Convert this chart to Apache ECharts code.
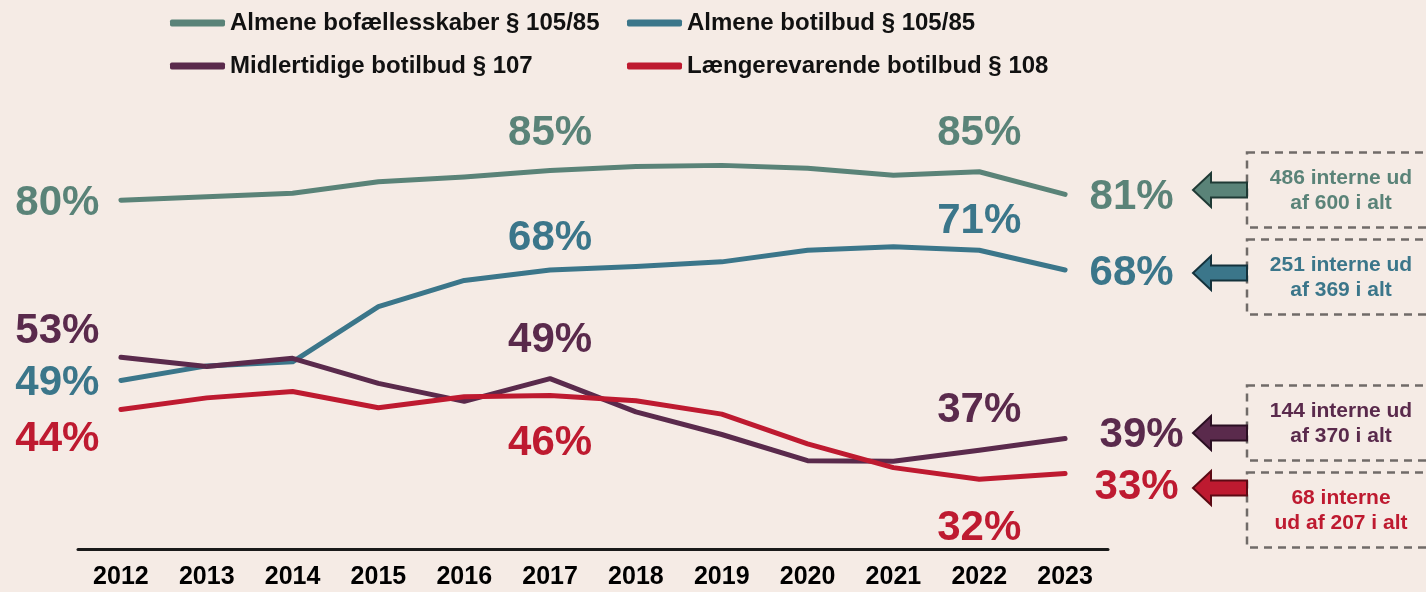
<!DOCTYPE html>
<html lang="da">

<head>
    <meta charset="UTF-8">
    <title>Interne andele</title>
    <script src="https://cdn.jsdelivr.net/npm/echarts@6/dist/echarts.min.js"></script>
    <style>
        html, body {
            margin: 0;
            padding: 0;
            background-color: #f5ebe5;
        }

        #chart {
            width: 1426px;
            height: 592px;
        }
    </style>
</head>

<body>
    <div id="chart"></div>

    <script>
        // Data (percent)
        var years = ['2012', '2013', '2014', '2015', '2016', '2017', '2018', '2019', '2020', '2021', '2022', '2023'];
        var bofaellesskaber = [80, 80.6, 81.2, 83.2, 84.0, 85.1, 85.8, 86.0, 85.5, 84.3, 84.9, 81];
        var botilbud = [49, 51.5, 52.2, 61.7, 66.2, 68, 68.6, 69.4, 71.4, 72, 71.4, 68];
        var midlertidige = [53, 51.4, 52.8, 48.5, 45.4, 49.3, 43.6, 39.7, 35.2, 35.1, 37, 39];
        var laengerevarende = [44, 46, 47.1, 44.3, 46.2, 46.4, 45.5, 43.2, 38.1, 34, 32, 33];

        var seriesNames = [
            'Almene bofællesskaber § 105/85',
            'Almene botilbud § 105/85',
            'Midlertidige botilbud § 107',
            'Længerevarende botilbud § 108'
        ];
        var notes = [
            '486 interne ud\naf 600 i alt',
            '251 interne ud\naf 369 i alt',
            '144 interne ud\naf 370 i alt',
            '68 interne\nud af 207 i alt'
        ];

        var colors = ['#5a8378', '#3b768a', '#5a2a4c', '#be1a30'];
        var darkColors = ['#1f3a35', '#14323c', '#2a0f22', '#5c0a14'];
        var font = '"Liberation Sans", Arial, sans-serif';

        // where the percent labels go: index -> [position, distance, offsetY]
        var labelSpots = [
            { 0: ['left', 21, 3], 5: ['top', 16, 0], 10: ['top', 17, 0], 11: ['right', 24, 3] },
            { 0: ['left', 21, 3], 5: ['top', 10, 0], 10: ['top', 7, 0], 11: ['right', 24, 3] },
            { 0: ['left', 21, -26], 5: ['top', 17, 0], 10: ['top', 18, 0], 11: ['right', 34, -3] },
            { 0: ['left', 21, 30], 5: ['bottom', 26, 0], 10: ['bottom', 28, 0], 11: ['right', 29, 14] }
        ];

        function buildData(values, k) {
            return values.map(function (v, i) {
                var spot = labelSpots[k][i];
                if (!spot) return v;
                return {
                    value: v,
                    label: {
                        show: true,
                        position: spot[0],
                        distance: spot[1],
                        offset: [0, spot[2]],
                        formatter: function (p) { return Math.round(p.value) + '%'; },
                        color: colors[k],
                        fontFamily: font,
                        fontWeight: 'bold',
                        fontSize: 42,
                        lineHeight: 42
                    }
                };
            });
        }

        var allValues = [bofaellesskaber, botilbud, midlertidige, laengerevarende];
        var series = allValues.map(function (values, k) {
            return {
                name: seriesNames[k],
                type: 'line',
                data: buildData(values, k),
                symbol: 'circle',
                symbolSize: 1,
                itemStyle: { color: colors[k] },
                lineStyle: { width: 5, color: colors[k], cap: 'round', join: 'round' },
                label: { show: false },
                animation: false
            };
        });

        // one legend per item, laid out as in the picture
        var legendSpots = [[170, 11], [627, 11], [170, 54], [627, 54]];
        var legends = seriesNames.map(function (name, k) {
            return {
                data: [name],
                left: legendSpots[k][0],
                top: legendSpots[k][1],
                padding: 0,
                icon: 'roundRect',
                itemWidth: 55,
                itemHeight: 7,
                itemGap: 0,
                selectedMode: false,
                textStyle: { fontFamily: font, fontWeight: 'bold', fontSize: 24, color: '#111' }
            };
        });

        // dashed note boxes and arrows on the right
        var noteCenters = [190, 277, 423, 510];
        var arrowCenters = [190, 273, 433, 488];
        var graphics = [];
        notes.forEach(function (txt, k) {
            var cy = noteCenters[k];
            graphics.push({
                type: 'rect',
                shape: { x: 1247, y: cy - 37.5, width: 220, height: 75 },
                style: { fill: 'none', stroke: '#706b68', lineWidth: 2.5, lineDash: [8, 6] }
            });
            graphics.push({
                type: 'text',
                style: {
                    text: txt, x: 1341, y: cy + 1, align: 'center', verticalAlign: 'middle',
                    font: 'bold 21px ' + font, lineHeight: 25, fill: colors[k]
                }
            });
            var ay = arrowCenters[k];
            graphics.push({
                type: 'polygon',
                shape: {
                    points: [[1193, ay], [1211, ay - 17], [1211, ay - 7.5], [1247, ay - 7.5],
                        [1247, ay + 7.5], [1211, ay + 7.5], [1211, ay + 17]]
                },
                style: { fill: colors[k], stroke: darkColors[k], lineWidth: 2 }
            });
        });

        var chart = echarts.init(document.getElementById('chart'));
        chart.setOption({
            backgroundColor: '#f5ebe5',
            animation: false,
            legend: legends,
            grid: { left: 78, right: 318, top: 84, bottom: 43 },
            xAxis: {
                type: 'category',
                data: years,
                boundaryGap: true,
                axisLine: { lineStyle: { color: '#1a1a1a', width: 3 } },
                axisTick: { show: false },
                axisLabel: { color: '#000', fontFamily: font, fontWeight: 'bold', fontSize: 25, margin: 16 }
            },
            yAxis: {
                type: 'value',
                min: 20,
                max: 100,
                show: false
            },
            series: series,
            graphic: graphics
        });
    </script>
</body>

</html>
